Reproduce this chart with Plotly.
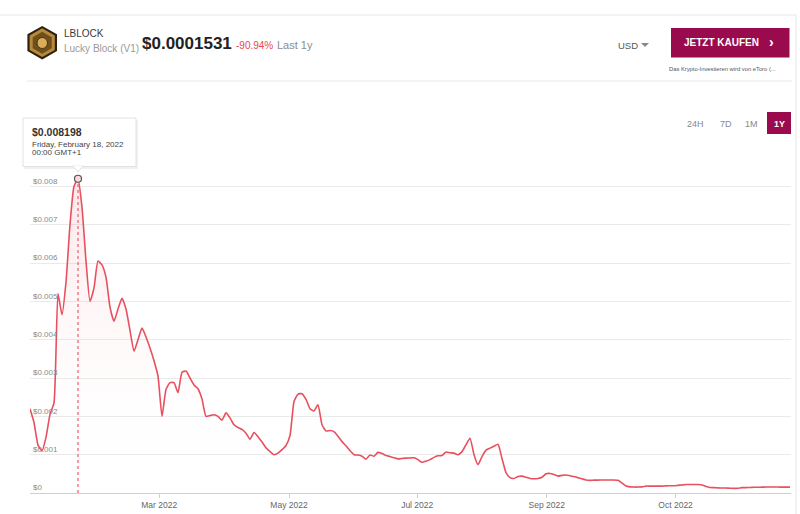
import plotly.graph_objects as go

# ---------------- data ----------------
# Ordinal price series (USD), one point per equally spaced sample along the axis
prices = [
    0.00220, 0.00184, 0.00125, 0.00110, 0.00145, 0.00205, 0.00235, 0.00520, 0.00465, 0.00550,
    0.00700, 0.00800, 0.008198, 0.00745, 0.00605, 0.00500, 0.00535, 0.00605, 0.00595, 0.00563,
    0.00485, 0.00448, 0.00480, 0.00508, 0.00480, 0.00424, 0.00370, 0.00400, 0.00430, 0.00407,
    0.00378, 0.00345, 0.00305, 0.00200, 0.00270, 0.00288, 0.00288, 0.00262, 0.00315, 0.00318,
    0.00300, 0.00282, 0.00272, 0.00245, 0.00200, 0.00202, 0.00204, 0.00200, 0.00190, 0.00209,
    0.00196, 0.00178, 0.00171, 0.00166, 0.00156, 0.00140, 0.00158, 0.00147, 0.00133, 0.00118,
    0.00108, 0.00100, 0.00104, 0.00113, 0.00124, 0.00150, 0.00238, 0.00258, 0.00259, 0.00244,
    0.00220, 0.00214, 0.00230, 0.00178, 0.00162, 0.00163, 0.00160, 0.00148, 0.00134, 0.00123,
    0.00110, 0.00100, 0.00099, 0.00096, 0.00088, 0.00099, 0.00096, 0.00106, 0.00103, 0.00098,
    0.00095, 0.00092, 0.00089, 0.00090, 0.00091, 0.000915, 0.00092, 0.00087, 0.00080, 0.00083,
    0.00087, 0.00093, 0.00097, 0.00098, 0.00107, 0.00105, 0.00104, 0.00100, 0.00108, 0.00126,
    0.00143, 0.00100, 0.00074, 0.00095, 0.00112, 0.00117, 0.00122, 0.00127, 0.00090, 0.00053,
    0.00040, 0.00038, 0.00043, 0.00044, 0.00041, 0.00038, 0.00037, 0.00038, 0.00041, 0.00050,
    0.00051, 0.00048, 0.00044, 0.00046, 0.00047, 0.00045, 0.00043, 0.00040, 0.00037, 0.00034,
    0.00033, 0.000335, 0.000335, 0.00034, 0.00034, 0.00034, 0.00034, 0.00033, 0.00026, 0.00018,
    0.00016, 0.000155, 0.000155, 0.00016, 0.00018, 0.00018, 0.00018, 0.00018, 0.00018, 0.000185,
    0.00019, 0.00019, 0.00020, 0.00021, 0.00022, 0.00022, 0.00022, 0.00022, 0.00021, 0.00017,
    0.000145, 0.00014, 0.000135, 0.00013, 0.00013, 0.000125, 0.00012, 0.000125, 0.00014, 0.00014,
    0.000145, 0.00015, 0.00015, 0.000152, 0.000155, 0.000155, 0.000155, 0.000155, 0.000154, 0.000154,
    0.0001531,
]
sample_index = list(range(len(prices)))

x_tick_positions = [32.3, 64.75, 96.8, 129.2, 161.4]
x_tick_labels = ["Mar 2022", "May 2022", "Jul 2022", "Sep 2022", "Oct 2022"]

y_tick_values = [0, 0.001, 0.002, 0.003, 0.004, 0.005, 0.006, 0.007, 0.008, 0.009]
y_tick_labels = ["$0", "$0.001", "$0.002", "$0.003", "$0.004", "$0.005",
                 "$0.006", "$0.007", "$0.008", "$0.009"]

symbol = "LBLOCK"
coin_name = "Lucky Block (V1)"
current_price = "$0.0001531"
change_pct = "-90.94%"
period_text = "Last 1y"
currency = "USD"
range_buttons = ["24H", "7D", "1M", "1Y"]
tooltip_price = "$0.008198"
tooltip_date = "Friday, February 18, 2022"
tooltip_time = "00:00 GMT+1"

# ---------------- styling ----------------
W_FIG, H_FIG = 800, 514
ML, MR, MT, MB = 30, 9, 148, 21
PW = W_FIG - ML - MR
PH = H_FIG - MT - MB
FONT = "Liberation Sans, Arial, sans-serif"
LINE_COLOR = "#E8505F"
BRAND = "#990B4C"


def px(x):
    return (x - ML) / PW


def py(y):
    return (H_FIG - MB - y) / PH


peak_i = max(range(len(prices)), key=lambda i: prices[i])
peak_v = prices[peak_i]

fig = go.Figure()

fig.add_trace(go.Scatter(
    x=sample_index, y=prices, mode="lines",
    line=dict(color=LINE_COLOR, width=1.6, shape="spline", smoothing=0.5),
    fill="tozeroy",
    fillgradient=dict(type="vertical",
                      colorscale=[[0, "rgba(255,255,255,0)"], [1, "rgba(232,80,95,0.14)"]],
                      start=0, stop=peak_v),
    hoverinfo="skip", showlegend=False,
))

# dashed crosshair from the highlighted point down to the axis
fig.add_trace(go.Scatter(
    x=[peak_i, peak_i], y=[0, peak_v], mode="lines",
    line=dict(color="#F07A88", width=1.5, dash="3px,3px"),
    hoverinfo="skip", showlegend=False,
))
fig.add_trace(go.Scatter(
    x=[peak_i], y=[peak_v], mode="markers",
    marker=dict(size=7, color="#FBD9DE", line=dict(color="#555555", width=1.2)),
    hoverinfo="skip", showlegend=False, cliponaxis=False,
))

shapes = []
annotations = []

# page frame lines
shapes.append(dict(type="line", xref="paper", yref="paper", x0=px(0), x1=px(796), y0=py(15), y1=py(15),
                   line=dict(color="#E6E6E6", width=1), layer="below"))
shapes.append(dict(type="line", xref="paper", yref="paper", x0=px(796), x1=px(796), y0=py(15), y1=py(514),
                   line=dict(color="#E6E6E6", width=1), layer="below"))
shapes.append(dict(type="line", xref="paper", yref="paper", x0=px(27), x1=px(792), y0=py(81), y1=py(81),
                   line=dict(color="#E8E8E8", width=1), layer="below"))

# logo (hexagon)
def hexpath(cx, cy, rx, ry):
    pts = [(cx, cy - ry), (cx + rx, cy - ry / 2), (cx + rx, cy + ry / 2),
           (cx, cy + ry), (cx - rx, cy + ry / 2), (cx - rx, cy - ry / 2)]
    return "M " + " L ".join(f"{px(a):.5f},{py(b):.5f}" for a, b in pts) + " Z"

shapes.append(dict(type="path", xref="paper", yref="paper", path=hexpath(42.2, 42.7, 14.8, 16.8),
                   fillcolor="#2E2110", line=dict(width=0)))
shapes.append(dict(type="path", xref="paper", yref="paper", path=hexpath(42.2, 42.7, 12.6, 14.4),
                   fillcolor="#B8893A", line=dict(width=0)))
shapes.append(dict(type="path", xref="paper", yref="paper", path=hexpath(42.2, 42.7, 9.5, 11.0),
                   fillcolor="#6E4F1E", line=dict(width=0)))
shapes.append(dict(type="circle", xref="paper", yref="paper", x0=px(37), x1=px(47.5), y0=py(37.5), y1=py(48.5),
                   fillcolor="#D8AE58", line=dict(color="#4A3410", width=1)))

def txt(x, y, text, size, color, bold=False, anchor="left", family=FONT):
    annotations.append(dict(
        xref="paper", yref="paper", x=px(x), y=py(y), xanchor=anchor, yanchor="middle",
        text=f"<b>{text}</b>" if bold else text, showarrow=False,
        font=dict(family=family, size=size, color=color)))

txt(62, 34, symbol, 10, "#3A3A3A")
txt(62, 48, coin_name, 10, "#9A9A9A")
txt(140, 43.5, current_price, 17, "#222222", bold=True)
txt(234, 45.3, change_pct, 10, "#E8464F")
txt(275, 45, period_text, 11, "#8C8C8C")

# currency selector
txt(615.5, 45, currency, 9.5, "#555555")
shapes.append(dict(type="path", xref="paper", yref="paper",
                   path=f"M {px(641):.5f},{py(43):.5f} L {px(649):.5f},{py(43):.5f} L {px(645):.5f},{py(47):.5f} Z",
                   fillcolor="#888888", line=dict(width=0)))

# buy button
shapes.append(dict(type="rect", xref="paper", yref="paper", x0=px(671), x1=px(789.5), y0=py(28), y1=py(57.5),
                   fillcolor=BRAND, line=dict(width=0)))
txt(682, 42.7, "JETZT KAUFEN", 10, "#FFFFFF", bold=True)
txt(771, 42.2, "›", 14, "#FFFFFF", bold=True, anchor="center")
txt(667, 68.5, "Das Krypto-Investieren wird von eToro (...", 5.8, "#555555")

# range buttons
btn_x = [695, 726, 751]
for lab, bx in zip(range_buttons[:3], btn_x):
    txt(bx, 123.5, lab, 9, "#888888", anchor="center")
shapes.append(dict(type="rect", xref="paper", yref="paper", x0=px(767), x1=px(791), y0=py(112), y1=py(134),
                   fillcolor=BRAND, line=dict(width=0)))
txt(779, 123.5, range_buttons[3], 9, "#FFFFFF", bold=True, anchor="center")

# tooltip box
shapes.append(dict(type="rect", xref="paper", yref="paper", x0=px(24), x1=px(138), y0=py(120), y1=py(169),
                   fillcolor="rgba(0,0,0,0.06)", line=dict(width=0)))
shapes.append(dict(type="rect", xref="paper", yref="paper", x0=px(23), x1=px(136), y0=py(118), y1=py(166.5),
                   fillcolor="#FFFFFF", line=dict(color="#E2E2E2", width=1)))
shapes.append(dict(type="path", xref="paper", yref="paper",
                   path=f"M {px(73):.5f},{py(166):.5f} L {px(83):.5f},{py(166):.5f} L {px(78):.5f},{py(172):.5f} Z",
                   fillcolor="#FFFFFF", line=dict(color="#E2E2E2", width=1)))
shapes.append(dict(type="line", xref="paper", yref="paper", x0=px(73.8), x1=px(82.2), y0=py(166.5), y1=py(166.5),
                   line=dict(color="#FFFFFF", width=1.5)))
txt(29.5, 132, tooltip_price, 10.5, "#333333", bold=True)
txt(29.5, 144, tooltip_date, 8, "#444444")
txt(29.5, 153, tooltip_time, 8, "#444444")

fig.update_layout(
    width=W_FIG, height=H_FIG,
    margin=dict(l=ML, r=MR, t=MT, b=MB, autoexpand=False),
    paper_bgcolor="#FFFFFF", plot_bgcolor="#FFFFFF",
    font=dict(family=FONT, size=8, color="#777777"),
    hovermode=False, showlegend=False,
    shapes=shapes, annotations=annotations,
    xaxis=dict(range=[0, 190.25], tickvals=x_tick_positions, ticktext=x_tick_labels,
               showgrid=False, zeroline=False, showline=True, linecolor="#D0D0D0", linewidth=1,
               ticks="outside", ticklen=4, tickcolor="#D0D0D0", automargin=False,
               tickfont=dict(size=8.5, color="#666666", family=FONT), fixedrange=True),
    yaxis=dict(range=[0, 0.009], tickvals=y_tick_values, ticktext=y_tick_labels,
               showgrid=True, gridcolor="#EAEAEA", gridwidth=1, zeroline=False, showline=False,
               ticks="", ticklabelposition="inside top", automargin=False,
               tickfont=dict(size=8, color="#8A8A8A", family=FONT), fixedrange=True),
)

fig.write_html(
    "out.html",
    config={"displayModeBar": False},
    post_script="document.body.style.margin='0';document.body.style.overflow='hidden';",
)
